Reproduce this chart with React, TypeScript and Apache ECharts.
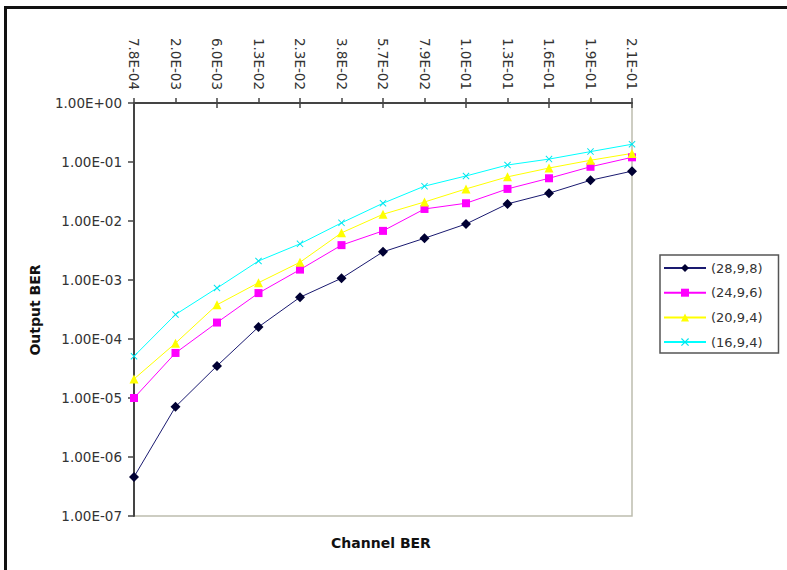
import React, { useEffect, useRef } from "react";
import * as echarts from "echarts";

const categories = [
  "7.8E-04", "2.0E-03", "6.0E-03", "1.3E-02", "2.3E-02", "3.8E-02", "5.7E-02",
  "7.9E-02", "1.0E-01", "1.3E-01", "1.6E-01", "1.9E-01", "2.1E-01",
];

const seriesNames = ["(28,9,8)", "(24,9,6)", "(20,9,4)", "(16,9,4)"];

const s28_9_8 = [4.6e-7, 7.1e-6, 3.5e-5, 1.6e-4, 5.1e-4, 1.07e-3, 3.0e-3, 5.1e-3, 8.9e-3, 1.95e-2, 2.96e-2, 4.9e-2, 7.0e-2];
const s24_9_6 = [1.0e-5, 5.8e-5, 1.9e-4, 6.0e-4, 1.5e-3, 3.9e-3, 6.8e-3, 1.6e-2, 2.0e-2, 3.5e-2, 5.3e-2, 8.3e-2, 1.2e-1];
const s20_9_4 = [2.1e-5, 8.5e-5, 3.8e-4, 9.0e-4, 2.0e-3, 6.3e-3, 1.3e-2, 2.1e-2, 3.5e-2, 5.6e-2, 7.9e-2, 1.07e-1, 1.4e-1];
const s16_9_4 = [5.1e-5, 2.6e-4, 7.3e-4, 2.1e-3, 4.1e-3, 9.3e-3, 2.0e-2, 3.9e-2, 5.8e-2, 8.9e-2, 1.12e-1, 1.5e-1, 2.0e-1];

const FONT = "DejaVu Sans";
const X_SYMBOL = "path://M0,1 L1,0 L5,4 L9,0 L10,1 L6,5 L10,9 L9,10 L5,6 L1,10 L0,9 L4,5 Z";

function fmtExp(v: number): string {
  const e = Math.round(Math.log10(v));
  const m = v / Math.pow(10, e);
  const sign = e < 0 ? "-" : "+";
  return `${m.toFixed(2)}E${sign}${String(Math.abs(e)).padStart(2, "0")}`;
}

export default function App() {
  const ref = useRef<HTMLDivElement>(null);

  useEffect(() => {
    document.body.style.margin = "0";
    if (!ref.current) return;
    const chart = echarts.init(ref.current, undefined, { renderer: "svg" });

    const mk = (name: string, data: number[], line: string, mark: string, symbol: string, size: number) => ({
      name,
      type: "line",
      xAxisIndex: 0,
      data,
      symbol,
      symbolSize: size,
      lineStyle: { color: line, width: 1 },
      itemStyle: { color: mark, borderColor: mark, borderWidth: 0 },
      emphasis: { disabled: true },
      clip: false,
    });

    chart.setOption({
      animation: false,
      backgroundColor: "#ffffff",
      grid: {
        left: 134,
        right: 155,
        top: 103,
        bottom: 54,
        show: true,
        borderColor: "#bdbdae",
        borderWidth: 1.5,
        backgroundColor: "#ffffff",
      },
      legend: {
        orient: "vertical",
        left: 660,
        top: 255,
        padding: [6, 16, 4, 3],
        itemWidth: 42,
        itemHeight: 10,
        itemGap: 10.7,
        borderColor: "#555555",
        borderWidth: 1.5,
        borderRadius: 0,
        textStyle: { fontFamily: FONT, fontSize: 13, color: "#333333", lineHeight: 14 },
        data: seriesNames,
      },
      xAxis: [
        {
          type: "category",
          position: "top",
          data: categories,
          boundaryGap: false,
          axisLine: { show: true, lineStyle: { color: "#444444", width: 2 } },
          axisTick: { show: true, inside: false, length: 5, lineStyle: { color: "#444444", width: 1.5 } },
          axisLabel: {
            rotate: 90,
            margin: 13,
            interval: 0,
            fontFamily: FONT,
            fontSize: 13.5,
            color: "#333333",
          },
          splitLine: { show: false },
        },
        {
          type: "category",
          position: "top",
          data: categories,
          boundaryGap: false,
          axisLine: { show: false },
          axisTick: { show: true, inside: true, length: 5, lineStyle: { color: "#444444", width: 1.5 } },
          axisLabel: { show: false },
          splitLine: { show: false },
        },
      ],
      yAxis: {
        type: "log",
        logBase: 10,
        min: 1e-7,
        max: 1,
        splitNumber: 7,
        axisLine: { show: true, lineStyle: { color: "#444444", width: 2 } },
        axisTick: { show: true, inside: false, length: 6, lineStyle: { color: "#444444", width: 1.5 } },
        minorTick: { show: false },
        axisLabel: {
          margin: 12,
          fontFamily: FONT,
          fontSize: 13.5,
          color: "#333333",
          formatter: (v: number) => fmtExp(v),
        },
        splitLine: { show: false },
      },
      graphic: [
        {
          type: "rect",
          silent: true,
          shape: { x: 5.5, y: 7.5, width: 900, height: 700 },
          style: { fill: "none", stroke: "#111111", lineWidth: 3 },
        },
        {
          type: "text",
          x: 35,
          y: 310,
          rotation: Math.PI / 2,
          style: {
            text: "Output BER",
            fill: "#111111",
            fontFamily: FONT,
            fontSize: 14,
            fontWeight: "bold",
            align: "center",
            verticalAlign: "middle",
          },
        },
        {
          type: "text",
          x: 381,
          y: 543,
          style: {
            text: "Channel BER",
            fill: "#111111",
            fontFamily: FONT,
            fontSize: 14,
            fontWeight: "bold",
            align: "center",
            verticalAlign: "middle",
          },
        },
      ],
      series: [
        mk(seriesNames[0], s28_9_8, "#1a1a70", "#000033", "diamond", 10),
        mk(seriesNames[1], s24_9_6, "#ff00ff", "#ff00ff", "rect", 8),
        mk(seriesNames[2], s20_9_4, "#ffff00", "#ffff00", "triangle", 9),
        mk(seriesNames[3], s16_9_4, "#00ffff", "#00e5ee", X_SYMBOL, 7),
      ],
    });

    return () => chart.dispose();
  }, []);

  return <div ref={ref} style={{ width: 787, height: 570 }} />;
}
